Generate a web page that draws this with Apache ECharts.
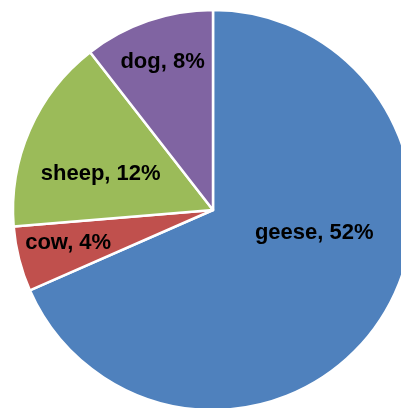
<!DOCTYPE html>
<html>
<head>
<meta charset="utf-8">
<script src="https://cdn.jsdelivr.net/npm/echarts@6/dist/echarts.min.js"></script>
<style>html,body{margin:0;padding:0;background:#fff;}#c{width:401px;height:408px;}</style>
</head>
<body>
<div id="c"></div>
<script>
const categories = ['geese', 'cow', 'sheep', 'dog'];
const values = [52, 4, 12, 8];
const colors = ['#4F81BD', '#C0504D', '#9BBB59', '#8064A2'];
const labelOffsets = [[15, -33], [-45, 8], [-18, 5], [-17, -51]];

const chart = echarts.init(document.getElementById('c'), null, {renderer: 'canvas'});
chart.setOption({
  animation: false,
  series: [{
    type: 'pie',
    center: [213, 210],
    radius: [0, 200],
    startAngle: 90,
    clockwise: true,
    avoidLabelOverlap: false,
    itemStyle: {borderColor: '#fff', borderWidth: 2.5},
    label: {
      position: 'inside',
      formatter: p => p.name + ', ' + p.value + '%',
      color: '#000',
      fontFamily: 'Liberation Sans, Arial, sans-serif',
      fontWeight: 'bold',
      fontSize: 22
    },
    labelLine: {show: false},
    emphasis: {disabled: true},
    data: categories.map((n, i) => ({
      name: n,
      value: values[i],
      itemStyle: {color: colors[i]},
      label: {offset: labelOffsets[i]}
    }))
  }]
});
</script>
</body>
</html>
